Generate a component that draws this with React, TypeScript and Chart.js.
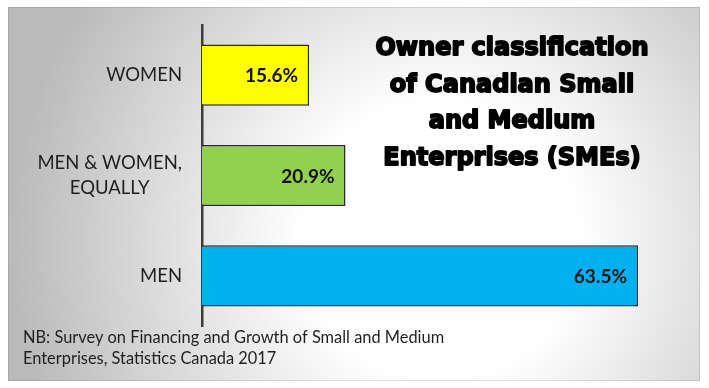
import React, { useEffect, useRef } from "react";
import { Chart, registerables } from "chart.js";

Chart.register(...registerables);

const categories: string[][] = [["WOMEN"], ["MEN & WOMEN,", "EQUALLY"], ["MEN"]];
const values: number[] = [15.6, 20.9, 63.5];
const barColors: string[] = ["#FFFF00", "#92D050", "#00B0F0"];
const titleLines: string[] = ["Owner classification", "of Canadian Small", "and Medium", "Enterprises (SMEs)"];
const noteLines: string[] = [
  "NB: Survey on Financing and Growth of Small and Medium",
  "Enterprises, Statistics Canada 2017",
];
const axisMax = 70;

const decor = {
  id: "decor",
  beforeDraw(chart: any) {
    const ctx = chart.ctx as CanvasRenderingContext2D;
    ctx.save();
    ctx.fillStyle = "#ffffff";
    ctx.fillRect(0, 0, chart.width, chart.height);
    const g = ctx.createRadialGradient(440, 240, 0, 440, 240, 430);
    g.addColorStop(0, "#ffffff");
    g.addColorStop(0.32, "#ffffff");
    g.addColorStop(1, "#bababa");
    ctx.fillStyle = g;
    ctx.fillRect(8, 7, 692, 374);
    ctx.strokeStyle = "rgba(0,0,0,0.10)";
    ctx.lineWidth = 1;
    ctx.strokeRect(8.5, 7.5, 691, 373);
    ctx.restore();
  },
  afterDraw(chart: any) {
    const ctx = chart.ctx as CanvasRenderingContext2D;
    const yScale = chart.scales.y;
    const area = chart.chartArea;
    ctx.save();
    // category labels
    ctx.font = "18.5px Lato";
    ctx.fillStyle = "#1f1f1f";
    ctx.textBaseline = "middle";
    ctx.textAlign = "center";
    categories.forEach((lines, i) => {
      const cy = yScale.getPixelForValue(i);
      const w = Math.max(...lines.map((l) => ctx.measureText(l).width));
      const cx = area.left - 20 - w / 2;
      const lh = 25;
      lines.forEach((l, j) => ctx.fillText(l, cx, cy + (j - (lines.length - 1) / 2) * lh));
    });
    // value labels
    ctx.font = "bold 19px Lato";
    ctx.textAlign = "right";
    ctx.fillStyle = "#111111";
    const meta = chart.getDatasetMeta(0);
    meta.data.forEach((el: any, i: number) => {
      ctx.fillText(values[i].toFixed(1) + "%", el.x - 11, el.y + 1);
    });
    // title
    ctx.font = "bold 24px 'DejaVu Sans'";
    ctx.textAlign = "center";
    ctx.textBaseline = "alphabetic";
    ctx.fillStyle = "#000000";
    ctx.strokeStyle = "#000000";
    ctx.lineWidth = 1.8;
    ctx.lineJoin = "round";
    titleLines.forEach((l, i) => {
      const y = 55 + i * 36.5;
      ctx.strokeText(l, 512, y);
      ctx.fillText(l, 512, y);
    });
    // footnote
    ctx.font = "16.4px Lato";
    ctx.textAlign = "left";
    ctx.fillStyle = "#1f1f1f";
    noteLines.forEach((l, i) => ctx.fillText(l, 23, 343 + i * 21));
    ctx.restore();
  },
};

export default function App() {
  const ref = useRef<HTMLCanvasElement | null>(null);
  useEffect(() => {
    if (!ref.current) return;
    const chart = new Chart(ref.current, {
      type: "bar",
      data: {
        labels: categories.map((c) => c.join(" ")),
        datasets: [
          {
            data: values,
            backgroundColor: barColors,
            borderColor: "#2a2a2a",
            borderWidth: 1.5,
            borderSkipped: "left",
            barPercentage: 0.61,
            categoryPercentage: 1,
          },
        ],
      },
      options: {
        indexAxis: "y",
        responsive: false,
        animation: false,
        layout: { padding: { left: 12, right: 26.4, top: 25, bottom: 62 } },
        plugins: { legend: { display: false }, tooltip: { enabled: false }, title: { display: false } },
        scales: {
          x: { display: false, min: 0, max: axisMax },
          y: {
            display: true,
            ticks: { display: false },
            grid: { display: false },
            border: { display: true, color: "#3c3c3c", width: 2.5 },
            afterFit: (s: any) => {
              s.width = 190;
            },
          },
        },
      },
      plugins: [decor],
    });
    return () => chart.destroy();
  }, []);
  return (
    <div style={{ position: "fixed", left: 0, top: 0, width: 709, height: 388 }}>
      <canvas ref={ref} width={709} height={388} style={{ display: "block", width: 709, height: 388 }} />
    </div>
  );
}
